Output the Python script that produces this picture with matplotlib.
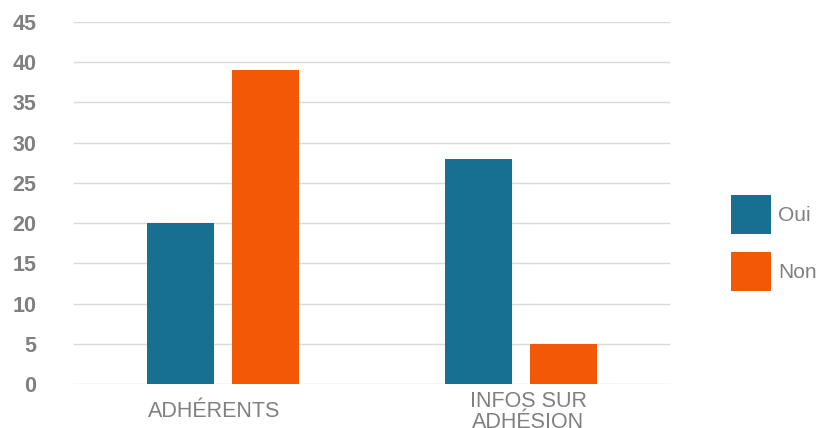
import numpy as np
import matplotlib.pyplot as plt
import matplotlib.transforms as mtransforms

plt.rcParams['font.family'] = ['Liberation Sans', 'DejaVu Sans']

categories = ["ADHÉRENTS", "INFOS SUR\nADHÉSION"]
oui = [20, 28]
non = [39, 5]
y_ticks = [0, 5, 10, 15, 20, 25, 30, 35, 40, 45]

c_oui = "#176f91"
c_non = "#f25805"
gris = "#808080"

fig = plt.figure(figsize=(8.34, 4.28), dpi=100)
ax = fig.add_axes([74/834, 1-384/428, 596/834, 362/428])

x = np.arange(len(categories))
w = 0.225
off = 0.1426
ax.bar(x - off, oui, w, color=c_oui, label="Oui", zorder=3)
ax.bar(x + off, non, w, color=c_non, label="Non", zorder=3)

ax.set_xlim(-0.5, 1.5)
ax.set_ylim(0, 45)
ax.set_yticks(y_ticks)
ax.yaxis.grid(True, color="#d9d9d9", linewidth=1, zorder=0)
for s in ax.spines.values():
    s.set_visible(False)
ax.tick_params(axis='y', length=0, pad=27, labelsize=15.5, labelcolor=gris)
for t in ax.get_yticklabels():
    t.set_fontweight('bold')

ax.set_xticks(x)
ax.set_xticklabels(categories, fontsize=15.5, color=gris, linespacing=1.0)
ax.tick_params(axis='x', length=0, pad=20)
# petits decalages horizontaux des etiquettes comme dans l'original
decal = [-0.09, 0.07]
for t, d in zip(ax.get_xticklabels(), decal):
    t.set_va('center')
    t.set_transform(t.get_transform() + mtransforms.ScaledTranslation(d, 0, fig.dpi_scale_trans))

fig.legend(loc='center left', bbox_to_anchor=(731/834, 1-243/428), frameon=False,
           fontsize=15, labelcolor=gris, handlelength=1.9, handleheight=2.5,
           labelspacing=0.9, handletextpad=0.35, borderpad=0, borderaxespad=0)

fig.savefig("out.png", dpi=100)
